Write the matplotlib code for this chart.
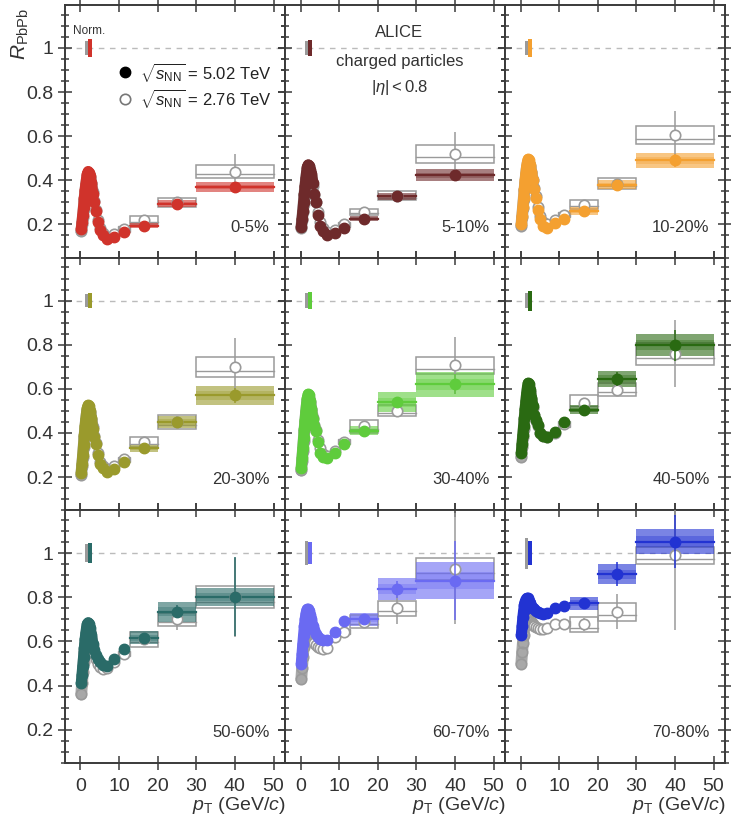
import numpy as np
import matplotlib
matplotlib.use("Agg")
import matplotlib.pyplot as plt
from matplotlib.patches import Rectangle
from matplotlib.ticker import MultipleLocator, FixedLocator

plt.rcParams['font.family'] = ['Liberation Sans', 'DejaVu Sans']
plt.rcParams['mathtext.fontset'] = 'custom'
plt.rcParams['mathtext.rm'] = 'Liberation Sans'
plt.rcParams['mathtext.it'] = 'Liberation Sans:italic'

# centrality classes and colours
cent = ["0-5%", "5-10%", "10-20%", "20-30%", "30-40%", "40-50%", "50-60%", "60-70%", "70-80%"]
colors = ["#d0332b", "#6e2a2b", "#f4a030", "#9a9a2c", "#5fcc3c",
          "#2a6a12", "#2a6b68", "#6a6af2", "#2233d2"]

# low/intermediate pT points (GeV/c)
pt_low = [0.2, 0.4, 0.6, 0.8, 1.0, 1.2, 1.4, 1.6, 1.8, 2.0, 2.2, 2.5, 2.8,
          3.2, 3.6, 4.0, 4.5, 5.0, 5.8, 6.8, 8.8, 11.2]
n_dense = 14  # the first points overlap into a continuous band
# high pT bins
pt_high = [16.4, 25, 40]
high_lo = [12.8, 20, 30]
high_hi = [20, 30, 50]

# R_PbPb at 5.02 TeV, low pT
r502_low = [
    [0.18, 0.21, 0.245, 0.28, 0.32, 0.355, 0.385, 0.41, 0.43, 0.44, 0.435, 0.42, 0.39, 0.34, 0.30, 0.26, 0.21, 0.175, 0.15, 0.135, 0.145, 0.165],
    [0.19, 0.225, 0.26, 0.30, 0.34, 0.375, 0.41, 0.44, 0.46, 0.47, 0.465, 0.445, 0.43, 0.39, 0.34, 0.30, 0.245, 0.195, 0.17, 0.15, 0.16, 0.185],
    [0.20, 0.24, 0.28, 0.32, 0.36, 0.40, 0.435, 0.465, 0.485, 0.495, 0.49, 0.47, 0.44, 0.40, 0.36, 0.32, 0.265, 0.225, 0.195, 0.185, 0.205, 0.225],
    [0.22, 0.26, 0.30, 0.345, 0.39, 0.43, 0.465, 0.495, 0.515, 0.525, 0.52, 0.50, 0.47, 0.42, 0.38, 0.35, 0.30, 0.26, 0.24, 0.225, 0.237, 0.268],
    [0.24, 0.285, 0.33, 0.375, 0.42, 0.46, 0.50, 0.535, 0.56, 0.575, 0.57, 0.545, 0.51, 0.465, 0.43, 0.41, 0.36, 0.31, 0.29, 0.285, 0.31, 0.35],
    [0.31, 0.35, 0.39, 0.43, 0.47, 0.51, 0.545, 0.58, 0.61, 0.625, 0.62, 0.595, 0.56, 0.52, 0.48, 0.46, 0.435, 0.40, 0.385, 0.38, 0.405, 0.45],
    [0.41, 0.45, 0.49, 0.53, 0.57, 0.61, 0.64, 0.665, 0.68, 0.685, 0.68, 0.66, 0.63, 0.59, 0.56, 0.54, 0.52, 0.505, 0.495, 0.49, 0.52, 0.565],
    [0.50, 0.545, 0.59, 0.63, 0.67, 0.70, 0.725, 0.74, 0.745, 0.745, 0.74, 0.72, 0.70, 0.67, 0.65, 0.635, 0.62, 0.61, 0.605, 0.605, 0.644, 0.694],
    [0.63, 0.67, 0.71, 0.74, 0.765, 0.78, 0.79, 0.795, 0.795, 0.79, 0.785, 0.775, 0.76, 0.75, 0.745, 0.74, 0.735, 0.73, 0.725, 0.73, 0.75, 0.76],
]
# R_PbPb at 2.76 TeV, low pT
r276_low = [
    [0.17, 0.20, 0.235, 0.27, 0.31, 0.345, 0.375, 0.40, 0.42, 0.43, 0.43, 0.415, 0.39, 0.345, 0.305, 0.265, 0.22, 0.185, 0.16, 0.145, 0.155, 0.18],
    [0.185, 0.22, 0.255, 0.295, 0.335, 0.37, 0.40, 0.43, 0.45, 0.46, 0.46, 0.44, 0.415, 0.375, 0.335, 0.30, 0.255, 0.21, 0.185, 0.165, 0.175, 0.20],
    [0.195, 0.235, 0.275, 0.315, 0.355, 0.39, 0.425, 0.455, 0.475, 0.485, 0.48, 0.465, 0.44, 0.40, 0.365, 0.33, 0.28, 0.24, 0.21, 0.20, 0.22, 0.245],
    [0.21, 0.25, 0.29, 0.335, 0.38, 0.42, 0.455, 0.485, 0.505, 0.515, 0.51, 0.495, 0.465, 0.425, 0.385, 0.355, 0.31, 0.27, 0.25, 0.235, 0.25, 0.28],
    [0.23, 0.275, 0.32, 0.365, 0.41, 0.45, 0.49, 0.525, 0.55, 0.565, 0.56, 0.54, 0.51, 0.47, 0.435, 0.415, 0.37, 0.33, 0.305, 0.295, 0.32, 0.36],
    [0.29, 0.335, 0.38, 0.42, 0.46, 0.50, 0.535, 0.57, 0.595, 0.61, 0.61, 0.585, 0.555, 0.515, 0.48, 0.455, 0.43, 0.40, 0.385, 0.38, 0.40, 0.44],
    [0.36, 0.41, 0.46, 0.505, 0.55, 0.59, 0.62, 0.645, 0.66, 0.67, 0.665, 0.645, 0.615, 0.575, 0.545, 0.52, 0.50, 0.485, 0.475, 0.48, 0.505, 0.545],
    [0.43, 0.48, 0.53, 0.575, 0.615, 0.65, 0.675, 0.69, 0.70, 0.70, 0.69, 0.67, 0.645, 0.615, 0.595, 0.585, 0.575, 0.57, 0.565, 0.57, 0.62, 0.645],
    [0.50, 0.55, 0.595, 0.63, 0.665, 0.69, 0.705, 0.715, 0.72, 0.715, 0.71, 0.70, 0.69, 0.68, 0.67, 0.665, 0.66, 0.655, 0.655, 0.66, 0.68, 0.68],
]

# high pT values, stat errors and systematic half-heights
r502_high = [[0.195, 0.295, 0.37], [0.227, 0.327, 0.423], [0.26, 0.38, 0.49],
             [0.33, 0.45, 0.57], [0.41, 0.54, 0.62], [0.505, 0.645, 0.797],
             [0.617, 0.735, 0.803], [0.70, 0.836, 0.876], [0.773, 0.905, 1.053]]
r276_high = [[0.22, 0.30, 0.44], [0.256, 0.33, 0.52], [0.29, 0.385, 0.605],
             [0.36, 0.45, 0.70], [0.43, 0.50, 0.706], [0.536, 0.597, 0.76],
             [0.61, 0.70, 0.80], [0.69, 0.75, 0.93], [0.677, 0.735, 0.99]]
e502 = [[0.005, 0.008, 0.015], [0.005, 0.01, 0.02], [0.006, 0.015, 0.03],
        [0.008, 0.02, 0.035], [0.01, 0.025, 0.045], [0.01, 0.03, 0.07],
        [0.012, 0.03, 0.18], [0.015, 0.04, 0.18], [0.02, 0.055, 0.12]]
e276 = [[0.01, 0.02, 0.08], [0.01, 0.02, 0.10], [0.012, 0.02, 0.11],
        [0.015, 0.025, 0.13], [0.015, 0.025, 0.13], [0.02, 0.03, 0.15],
        [0.02, 0.05, 0.18], [0.03, 0.07, 0.25], [0.03, 0.08, 0.34]]
s502 = [[0.01, 0.015, 0.022], [0.012, 0.017, 0.027], [0.017, 0.02, 0.032],
        [0.017, 0.027, 0.042], [0.02, 0.045, 0.055], [0.02, 0.035, 0.05],
        [0.03, 0.045, 0.04], [0.03, 0.05, 0.085], [0.03, 0.045, 0.055]]
s276 = [[0.017, 0.02, 0.03], [0.015, 0.02, 0.04], [0.02, 0.025, 0.04],
        [0.022, 0.03, 0.045], [0.03, 0.025, 0.04], [0.035, 0.03, 0.05],
        [0.035, 0.03, 0.05], [0.03, 0.035, 0.05], [0.035, 0.04, 0.04]]
# normalisation uncertainty (2.76 TeV, 5.02 TeV)
norm276 = [0.03, 0.03, 0.03, 0.03, 0.035, 0.035, 0.04, 0.055, 0.07]
norm502 = [0.04, 0.035, 0.04, 0.035, 0.04, 0.045, 0.045, 0.05, 0.055]

GRAY = "#9a9a9a"
FRAME = "#3a3a3a"

fig, axes = plt.subplots(3, 3, figsize=(7.31, 8.22), dpi=100, sharex=True, sharey=True)
fig.subplots_adjust(left=0.089, right=0.992, top=0.994, bottom=0.072, wspace=0, hspace=0)

for i, ax in enumerate(axes.flat):
    c = colors[i]
    ax.set_xlim(-4, 53)
    ax.set_ylim(0.05, 1.195)
    ax.axhline(1.0, color="#bbbbbb", ls=(0, (4, 4)), lw=1, zorder=0)

    # normalisation boxes
    ax.add_patch(Rectangle((1.1, 1 - norm276[i]), 0.9, 2 * norm276[i], color=GRAY, lw=0, zorder=2))
    ax.add_patch(Rectangle((2.0, 1 - norm502[i]), 0.9, 2 * norm502[i], color=c, lw=0, zorder=2))

    # 2.76 TeV systematic boxes (open)
    for k in range(3):
        lo, hi = high_lo[k], high_hi[k]
        y, s = r276_high[i][k], s276[i][k]
        ax.add_patch(Rectangle((lo, y - s), hi - lo, 2 * s, fill=False, ec=GRAY, lw=1.1, zorder=2))
        ax.plot([lo, hi], [y - 0.4 * s, y - 0.4 * s], color=GRAY, lw=1.0, zorder=2)
    for k, (lo, hi) in enumerate([(8.0, 9.6), (9.6, 12.8)]):
        y = r276_low[i][-2 + k]
        ax.add_patch(Rectangle((lo, y - 0.012), hi - lo, 0.024, fill=False, ec=GRAY, lw=1.0, zorder=2))

    # 5.02 TeV systematic boxes (filled)
    for k in range(3):
        lo, hi = high_lo[k], high_hi[k]
        y, s = r502_high[i][k], s502[i][k]
        ax.add_patch(Rectangle((lo, y - s), hi - lo, 2 * s, color=c, alpha=0.6, lw=0, zorder=3))
        ax.add_patch(Rectangle((lo, y - 0.45 * s), hi - lo, 0.9 * s, color=c, alpha=0.35, lw=0, zorder=3))
        ax.plot([lo, hi], [y, y], color=c, lw=1.6, zorder=4)

    # 2.76 TeV points
    ax.errorbar(pt_high, r276_high[i], yerr=e276[i], fmt="o", ms=7.5, mfc="white",
                mec=GRAY, mew=1.2, ecolor=GRAY, elinewidth=1.1, zorder=5)
    ax.plot(pt_low[:n_dense], r276_low[i][:n_dense], "-", color="#a8a8a8", lw=8.5,
            solid_capstyle="round", solid_joinstyle="round", zorder=5)
    ax.plot(pt_low[:n_dense], r276_low[i][:n_dense], "o", ms=7.5, mfc="none", mec=GRAY,
            mew=1.2, zorder=5)
    ax.plot(pt_low[n_dense:], r276_low[i][n_dense:], "o", ms=7.5, mfc="white", mec=GRAY,
            mew=1.2, zorder=5)

    # 5.02 TeV points
    ax.errorbar(pt_high, r502_high[i], yerr=e502[i], fmt="o", ms=7.5, color=c,
                elinewidth=1.1, zorder=6)
    ax.plot(pt_low[:n_dense], r502_low[i][:n_dense], "-", color=c, lw=8,
            solid_capstyle="round", solid_joinstyle="round", zorder=6)
    ax.plot(pt_low, r502_low[i], "o", ms=7.5, color=c, mec=c, zorder=6)

    ax.text(0.93, 0.12, cent[i], transform=ax.transAxes, ha="right", va="center",
            fontsize=12, color="#333333")

    ax.xaxis.set_major_locator(FixedLocator([0, 10, 20, 30, 40, 50]))
    ax.yaxis.set_major_locator(FixedLocator([0.2, 0.4, 0.6, 0.8, 1.0]))
    ax.yaxis.set_minor_locator(MultipleLocator(0.05))
    ax.tick_params(which="both", direction="inout", top=True, right=True, color=FRAME,
                   labelsize=14, labelcolor="#333333", width=1.1)
    ax.tick_params(which="major", length=10)
    ax.tick_params(which="minor", length=6)
    ax.tick_params(axis="x", pad=6)
    ax.set_yticklabels(["0.2", "0.4", "0.6", "0.8", "1"])
    for sp in ax.spines.values():
        sp.set_color(FRAME)
        sp.set_linewidth(1.4)

for ax in axes[2]:
    ax.set_xlabel(r"$p_{\rm T}$ (GeV/$c$)", fontsize=14, color="#333333", loc="right", labelpad=0)

# legend-like annotations
ax0 = axes[0, 0]
ax0.text(-2, 1.075, "Norm.", fontsize=8.5, color="#333333", va="center")
ax0.plot([11.5], [0.89], "o", ms=7.5, color="black")
ax0.plot([11.5], [0.77], "o", ms=7.5, mfc="white", mec="#777777", mew=1.2)
ax0.text(15.5, 0.89, r"$\sqrt{s_{\rm NN}}$ = 5.02 TeV", fontsize=12, va="center", color="#222222")
ax0.text(15.5, 0.77, r"$\sqrt{s_{\rm NN}}$ = 2.76 TeV", fontsize=12, va="center", color="#222222")

ax1 = axes[0, 1]
ax1.text(0.52, 1.07, "ALICE", transform=ax1.get_yaxis_transform(), ha="center", va="center",
         fontsize=12, color="#333333")
ax1.text(0.52, 0.94, "charged particles", transform=ax1.get_yaxis_transform(), ha="center",
         va="center", fontsize=12, color="#333333")
ax1.text(0.52, 0.82, r"$|\eta| < 0.8$", transform=ax1.get_yaxis_transform(), ha="center",
         va="center", fontsize=12, color="#333333")

fig.text(0.028, 0.99, r"$R_{\rm PbPb}$", rotation=90, ha="center", va="top", fontsize=15,
         color="#333333")

fig.savefig("out.png", dpi=100)
